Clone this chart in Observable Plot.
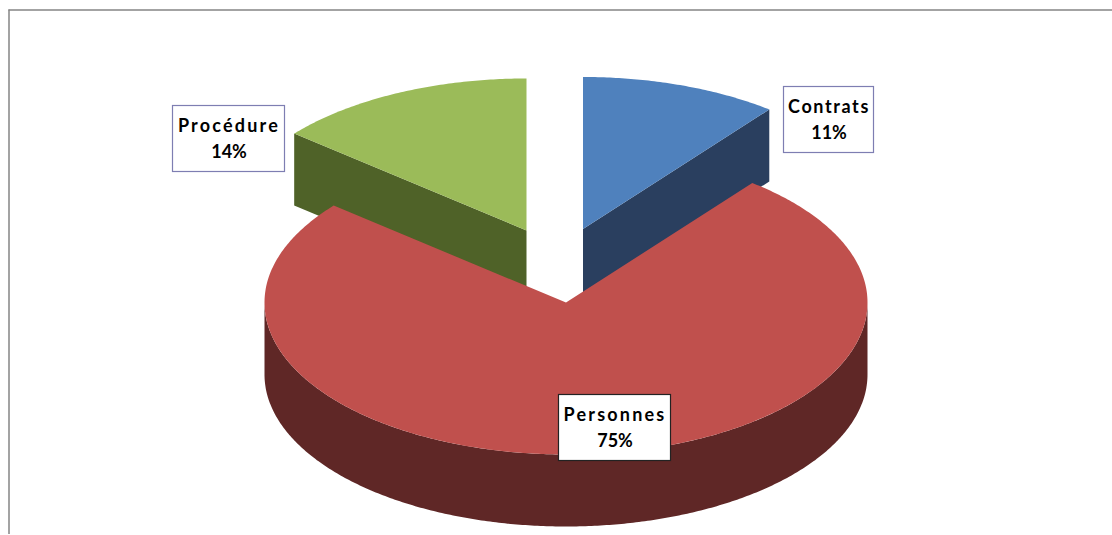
<!DOCTYPE html>
<html>
<head>
<meta charset="utf-8">
<style>html,body{margin:0;padding:0;background:#fff}svg{display:block}</style>
<script src="https://cdn.jsdelivr.net/npm/d3@7"></script>
<script src="https://cdn.jsdelivr.net/npm/@observablehq/plot@0.6"></script>
</head>
<body>
<script>
// Data
const categories = ["Contrats", "Personnes", "Procédure"];
const shares = [10.6, 75.4, 14.0];
const percentLabels = ["11%", "75%", "14%"];
// Styles
const topColors = ["#4f81bd", "#c0504d", "#9bbb59"];
const sideColors = ["#2a3f5f", "#5f2726", "#4f6228"];
const boxStrokes = ["#7e7eb2", "#222222", "#7e7eb2"];
const nameSpacing = [1.6, 2.2, 2.2];
// Layout (in plot units)
const W = 1112, H = 535;
const rx = 301.5, ry = 152, depth = 72;
const centerX = [582.5, 565.5, 526];
const centerY = [228.5, 302, 230];
const boxX1 = [783.5, 558.5, 172.5];
const boxX2 = [873.5, 670.5, 284.5];
const boxY1 = [86.5, 394.5, 105.5];
const boxY2 = [152.5, 460.5, 171.5];

// Pie geometry derived from the shares
const total = d3.sum(shares);
let running = 0;
const slices = categories.map((name, i) => {
  const a0 = running / total * 2 * Math.PI;
  running += shares[i];
  const a1 = running / total * 2 * Math.PI;
  return {name, i, a0, a1, cx: centerX[i], cy: centerY[i]};
});
const rim = (s, a, dz = 0) => ({x: s.cx + rx * Math.sin(a), y: s.cy - ry * Math.cos(a) + dz});
const arc = (s, from, to, dz = 0) => {
  const n = Math.max(2, Math.ceil(Math.abs(to - from) / 0.01));
  return d3.range(n + 1).map(k => rim(s, from + (to - from) * k / n, dz));
};
const apex = (s, dz = 0) => ({x: s.cx, y: s.cy + dz});
const topFace = s => [apex(s), ...arc(s, s.a0, s.a1), apex(s)];
// wall visible along the front of the pie
const frontWall = s => {
  const from = Math.max(s.a0, Math.PI / 2), to = Math.min(s.a1, 3 * Math.PI / 2);
  return [...arc(s, from, to), ...arc(s, to, from, depth)];
};
// cut face of an exploded slice, seen from the front
const cutFace = (s, a) => [apex(s), rim(s, a), rim(s, a, depth), apex(s, depth)];

const [contrats, personnes, procedure] = slices;
const face = (points, fill) => Plot.line(points, {x: "x", y: "y", fill, stroke: "none", curve: "linear"});
const fontStyle = {fill: "#000", fontWeight: "bold", fontSize: 18, fontFamily: "Lato"};

const plot = Plot.plot({
  width: W, height: H,
  marginTop: 0, marginRight: 0, marginBottom: 0, marginLeft: 0,
  style: {background: "#fff"},
  x: {domain: [0, W], range: [0, W], axis: null},
  y: {domain: [0, H], range: [0, H], axis: null},
  marks: [
    Plot.ruleX([8.5], {y1: 9.5, y2: H - 1, stroke: "#858585", strokeWidth: 1.5}),
    Plot.ruleY([9.5], {x1: 8.5, x2: W, stroke: "#858585", strokeWidth: 1.5}),
    face(cutFace(contrats, contrats.a1), sideColors[0]),
    face(topFace(contrats), topColors[0]),
    face(cutFace(procedure, procedure.a0), sideColors[2]),
    face(topFace(procedure), topColors[2]),
    face(frontWall(personnes), sideColors[1]),
    face(topFace(personnes), topColors[1]),
    Plot.rect(slices, {
      x1: d => boxX1[d.i], x2: d => boxX2[d.i], y1: d => boxY1[d.i], y2: d => boxY2[d.i],
      fill: "#fff", stroke: d => boxStrokes[d.i], strokeWidth: 1.2
    }),
    Plot.text(slices, {
      x: d => (boxX1[d.i] + boxX2[d.i]) / 2, y: d => (boxY1[d.i] + boxY2[d.i]) / 2 - 13,
      text: "name", ...fontStyle
    }),
    Plot.text(slices, {
      x: d => (boxX1[d.i] + boxX2[d.i]) / 2, y: d => (boxY1[d.i] + boxY2[d.i]) / 2 + 13,
      text: d => percentLabels[d.i], ...fontStyle
    })
  ]
});
d3.select(plot).selectAll("text").each(function () {
  const i = categories.indexOf(this.textContent);
  if (i >= 0) this.style.letterSpacing = nameSpacing[i] + "px";
});
document.body.appendChild(plot);
</script>
</body>
</html>
